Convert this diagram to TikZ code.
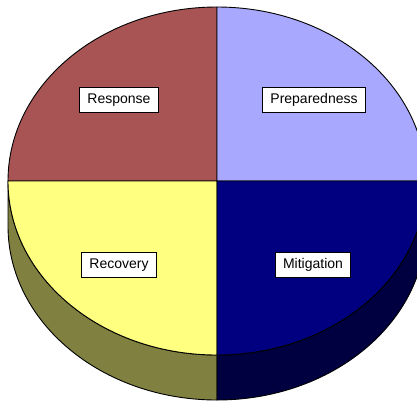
\documentclass[tikz,border=0pt]{standalone}
\usepackage{fontspec}
\setmainfont{Liberation Sans}
\usepackage{xcolor}
\usetikzlibrary{positioning}
\definecolor{responsecol}{RGB}{168,84,84}
\definecolor{prepcol}{RGB}{168,168,255}
\definecolor{recovcol}{RGB}{255,255,128}
\definecolor{mitigcol}{RGB}{0,0,128}
\definecolor{recovside}{RGB}{128,128,64}
\definecolor{mitigside}{RGB}{0,0,64}

\begin{document}
\begin{tikzpicture}[x=1pt, y=1pt,
    pieedge/.style={draw=black, line width=0.9pt, line join=round},
    phase/.style={draw=black, fill=white, line width=1pt, inner xsep=8pt,
      minimum height=25pt, font=\fontsize{14}{16}\selectfont}]
  \useasboundingbox (0,0) rectangle (417,-400);
  \clip (0,0) rectangle (417,-400);
  % ================================================================
  % side of the disc (depth 45)
  % ================================================================
  \filldraw[pieedge, fill=recovside] (8,-181) -- (8,-226)
    arc[start angle=180, end angle=270, x radius=209, y radius=174]
    -- (217,-355)
    arc[start angle=270, end angle=180, x radius=209, y radius=174] -- cycle;
  \filldraw[pieedge, fill=mitigside] (217,-355) -- (217,-400)
    arc[start angle=270, end angle=360, x radius=209, y radius=174]
    -- (426,-181)
    arc[start angle=0, end angle=-90, x radius=209, y radius=174] -- cycle;
  % ================================================================
  % top face, four quarters
  % ================================================================
  \filldraw[pieedge, fill=responsecol] (217,-181) -- (217,-7)
    arc[start angle=90, end angle=180, x radius=209, y radius=174] -- cycle;
  \filldraw[pieedge, fill=prepcol] (217,-181) -- (426,-181)
    arc[start angle=0, end angle=90, x radius=209, y radius=174] -- cycle;
  \filldraw[pieedge, fill=recovcol] (217,-181) -- (8,-181)
    arc[start angle=180, end angle=270, x radius=209, y radius=174] -- cycle;
  \filldraw[pieedge, fill=mitigcol] (217,-181) -- (217,-355)
    arc[start angle=270, end angle=360, x radius=209, y radius=174] -- cycle;
  % labels ---------------------------------------------------------
  \node[phase] (response) at (119,-100) {Response};
  \node[phase] (preparedness) at (314,-100) {Preparedness};
  \node[phase] (recovery) at (119,-265) {Recovery};
  \node[phase] (mitigation) at (313,-265) {Mitigation};
\end{tikzpicture}
\end{document}
